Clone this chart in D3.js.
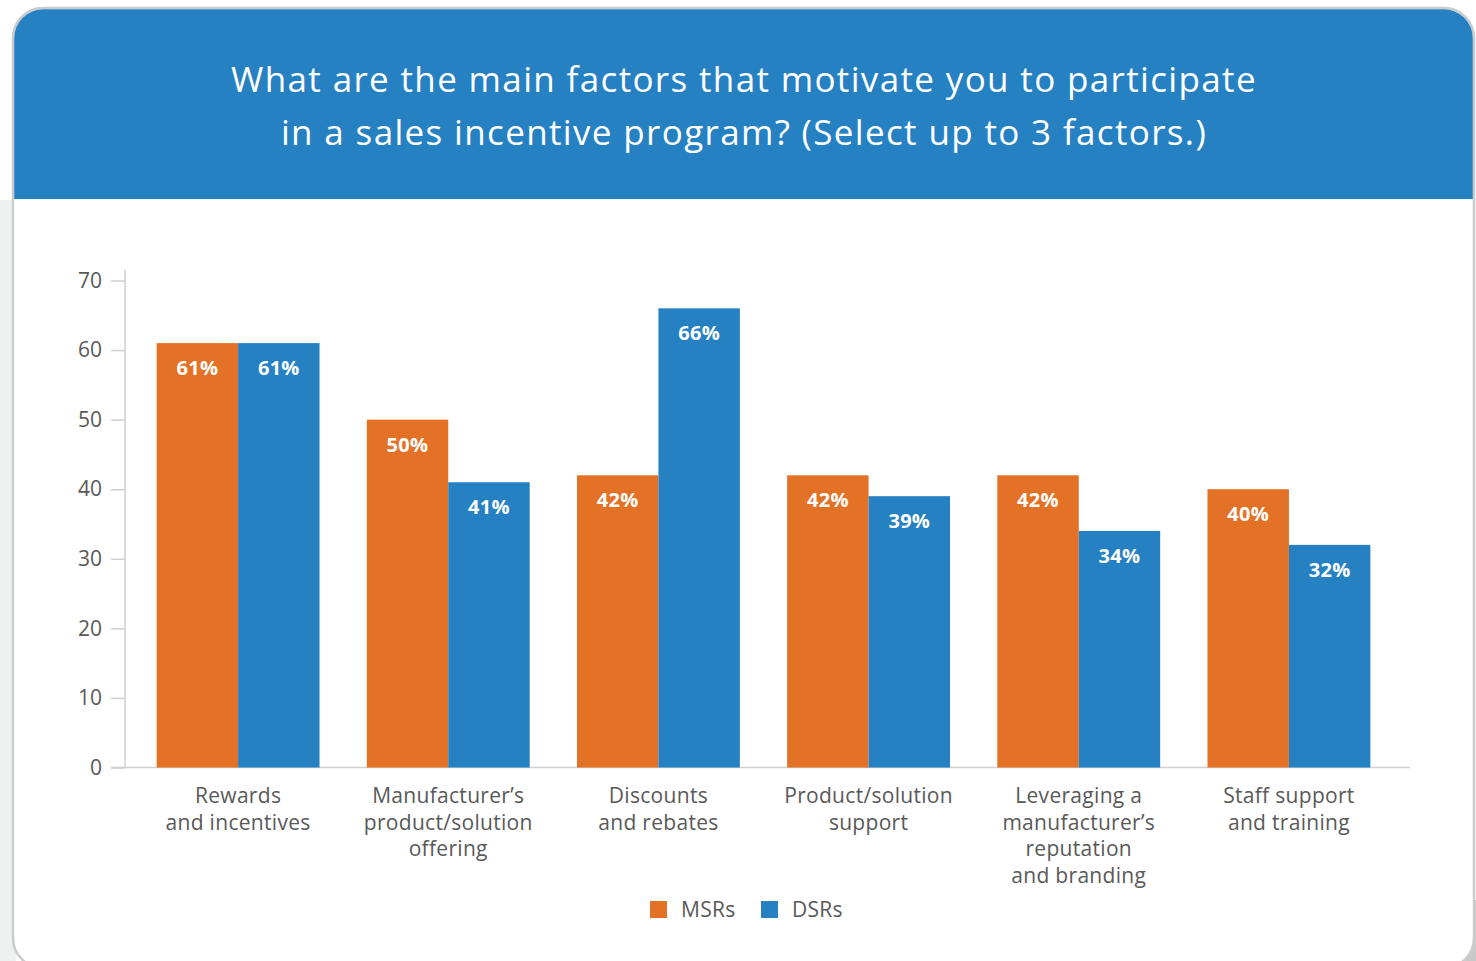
<!DOCTYPE html>
<html>
<head>
<meta charset="utf-8">
<script src="https://cdn.jsdelivr.net/npm/d3@7"></script>
<style>
  html, body { margin: 0; padding: 0; background: #ffffff; }
  svg { display: block; font-family: "Open Sans", "Noto Sans", sans-serif; }
</style>
</head>
<body>
<svg id="chart" width="1476" height="961"></svg>
<script>
// Survey categories and the share of respondents choosing each factor
const categories = [
  ["Rewards", "and incentives"],
  ["Manufacturer\u2019s", "product/solution", "offering"],
  ["Discounts", "and rebates"],
  ["Product/solution", "support"],
  ["Leveraging a", "manufacturer\u2019s", "reputation", "and branding"],
  ["Staff support", "and training"]
];
const seriesNames = ["MSRs", "DSRs"];
const msrValues = [61, 50, 42, 42, 42, 40];
const dsrValues = [61, 41, 66, 39, 34, 32];
const yTicks = [0, 10, 20, 30, 40, 50, 60, 70];
const titleLines = [
  "What are the main factors that motivate you to participate",
  "in a sales incentive program? (Select up to 3 factors.)"
];

const colors = { MSRs: "#e37226", DSRs: "#2681c3" };
const textColor = "#595959";
const axisColor = "#cfcfcf";

const svg = d3.select("#chart");

// Page backdrop and card frame
svg.append("rect").attr("x", 0).attr("y", 200).attr("width", 16).attr("height", 761).attr("fill", "#eff0f0");
svg.append("rect").attr("x", 1440).attr("y", 900).attr("width", 36).attr("height", 61).attr("fill", "#c8c8c8");

const card = { x: 13, y: 8, w: 1461, h: 960, r: 30 };
svg.append("rect")
  .attr("x", card.x).attr("y", card.y).attr("width", card.w).attr("height", card.h)
  .attr("rx", card.r).attr("ry", card.r)
  .attr("fill", "#ffffff").attr("stroke", "#cbcbcb").attr("stroke-width", 2.5);

// Blue header band with rounded top corners only
const hx0 = card.x + 1.2, hx1 = card.x + card.w - 1.2, hy0 = card.y + 1.2, hy1 = 199, r = card.r - 1;
svg.append("path")
  .attr("d", `M${hx0},${hy1} L${hx0},${hy0 + r} A${r},${r} 0 0 1 ${hx0 + r},${hy0} L${hx1 - r},${hy0} A${r},${r} 0 0 1 ${hx1},${hy0 + r} L${hx1},${hy1} Z`)
  .attr("fill", "#2681c3");

svg.append("g").selectAll("text")
  .data(titleLines).join("text")
  .attr("x", 744).attr("y", (d, i) => 92 + i * 53)
  .attr("text-anchor", "middle")
  .attr("fill", "#ffffff")
  .attr("font-size", 35).attr("font-weight", 500)
  .attr("letter-spacing", 1.35)
  .text(d => d);

// Scales
const y = d3.scaleLinear().domain([0, 70]).range([767.5, 280.5]);
const x0 = d3.scaleBand().domain(d3.range(categories.length)).range([133, 1394])
  .paddingInner(0.225).paddingOuter(0.1125);
const x1 = d3.scaleBand().domain(seriesNames).range([0, x0.bandwidth()]);

// Y axis
const yAxis = svg.append("g").attr("transform", "translate(125,0)")
  .call(d3.axisLeft(y).tickValues(yTicks).tickSize(14).tickPadding(9));
yAxis.select(".domain").attr("stroke", axisColor).attr("stroke-width", 1.5)
  .attr("d", `M0,270V${y(0)}`);
yAxis.selectAll(".tick line").attr("stroke", axisColor).attr("stroke-width", 1.5);
yAxis.selectAll(".tick text").attr("fill", textColor).attr("font-size", 21)
  .attr("font-family", "Open Sans, sans-serif");

// X axis baseline
svg.append("line").attr("x1", 111).attr("x2", 1410).attr("y1", y(0)).attr("y2", y(0))
  .attr("stroke", axisColor).attr("stroke-width", 1.5);

// Bars
const rows = categories.map((c, i) => ({ i, vals: [
  { key: "MSRs", value: msrValues[i] },
  { key: "DSRs", value: dsrValues[i] }
]}));

const groups = svg.append("g").selectAll("g")
  .data(rows).join("g")
  .attr("transform", d => `translate(${x0(d.i)},0)`);

groups.selectAll("rect")
  .data(d => d.vals).join("rect")
  .attr("x", d => x1(d.key)).attr("width", x1.bandwidth())
  .attr("y", d => y(d.value)).attr("height", d => y(0) - y(d.value))
  .attr("fill", d => colors[d.key]);

groups.selectAll("text.val")
  .data(d => d.vals).join("text")
  .attr("class", "val")
  .attr("x", d => x1(d.key) + x1.bandwidth() / 2)
  .attr("y", d => y(d.value) + 32)
  .attr("text-anchor", "middle")
  .attr("fill", "#ffffff").attr("font-size", 20).attr("font-weight", 700)
  .attr("letter-spacing", 0.3)
  .text(d => d.value + "%");

// Category labels
const catLabels = svg.append("g").selectAll("text")
  .data(categories).join("text")
  .attr("x", (d, i) => x0(i) + x0.bandwidth() / 2)
  .attr("y", 803)
  .attr("text-anchor", "middle")
  .attr("fill", textColor).attr("font-size", 21)
  .attr("letter-spacing", 0.3);
catLabels.selectAll("tspan")
  .data(d => d).join("tspan")
  .attr("x", function() { return this.parentNode.getAttribute("x"); })
  .attr("dy", (d, i) => i === 0 ? 0 : 26.5)
  .text(d => d);

// Legend
const legend = svg.append("g").selectAll("g")
  .data(seriesNames).join("g")
  .attr("transform", (d, i) => `translate(${[650, 761][i]},901)`);
legend.append("rect").attr("width", 17).attr("height", 17).attr("fill", d => colors[d]);
legend.append("text").attr("x", 31).attr("y", 16)
  .attr("fill", textColor).attr("font-size", 21).attr("letter-spacing", 0.3).text(d => d);
</script>
</body>
</html>
